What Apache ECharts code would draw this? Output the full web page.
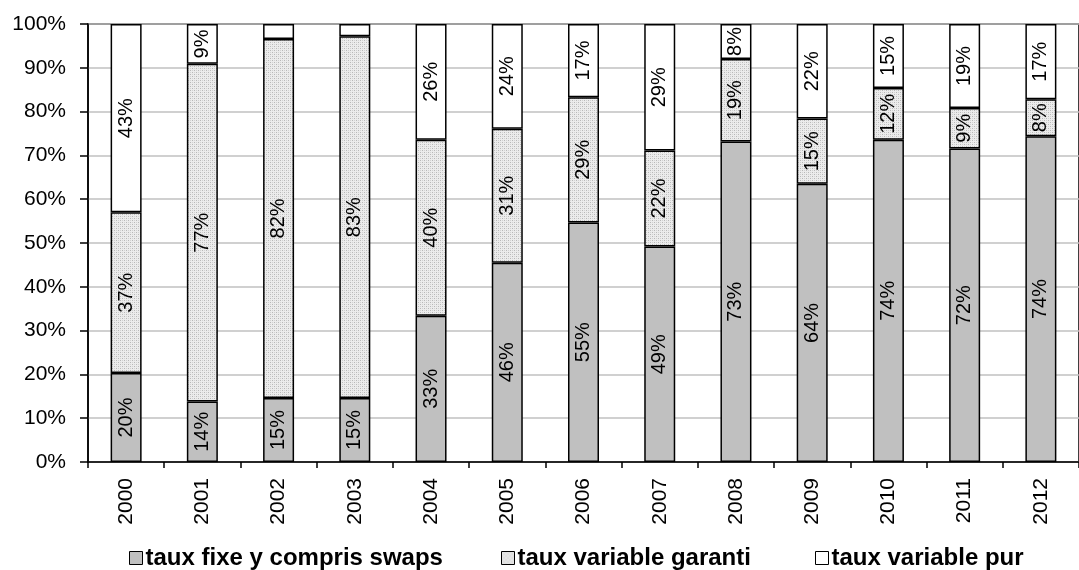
<!DOCTYPE html>
<html>
<head>
<meta charset="utf-8">
<script src="https://cdn.jsdelivr.net/npm/echarts@6/dist/echarts.min.js"></script>
<style>html,body{margin:0;padding:0;background:#fff}#c{width:1079px;height:570px}</style>
</head>
<body>
<div id="c"></div>
<script>
const years = ['2000','2001','2002','2003','2004','2005','2006','2007','2008','2009','2010','2011','2012'];
const seriesNames = ['taux fixe y compris swaps', 'taux variable garanti', 'taux variable pur'];
const fixe     = [20.3, 13.8, 14.6, 14.6, 33.4, 45.5, 54.7, 49.2, 73.2, 63.5, 73.6, 71.6, 74.4];
const garanti  = [36.7, 77.1, 82.0, 82.6, 40.2, 30.6, 28.6, 21.9, 18.8, 14.9, 11.8,  9.2,  8.4];
const pur      = [43.0,  9.1,  3.4,  2.8, 26.4, 23.9, 16.7, 28.9,  8.0, 21.6, 14.6, 19.2, 17.2];
const yTicks = [0,10,20,30,40,50,60,70,80,90,100];

// dotted pattern for "garanti"
const pc = document.createElement('canvas');
pc.width = 4; pc.height = 4;
const pctx = pc.getContext('2d');
pctx.fillStyle = '#ececec'; pctx.fillRect(0,0,4,4);
pctx.fillStyle = '#b8b8b8';
pctx.fillRect(0,0,1,1); pctx.fillRect(2,2,1,1);
pctx.fillStyle = '#d2d2d2';
pctx.fillRect(2,0,1,1); pctx.fillRect(0,2,1,1);
const pattern = {image: pc, repeat: 'repeat'};

const fills = ['#c0c0c0', pattern, '#ffffff'];
const dataSets = [fixe, garanti, pur];
const font = 'Liberation Sans, Arial, sans-serif';
const legendLefts = [129, 501, 815];

const chart = echarts.init(document.getElementById('c'), null, {renderer: 'canvas'});
chart.setOption({
  animation: false,
  backgroundColor: '#fff',
  grid: {left: 88, top: 24, width: 1005, height: 438, show: true, borderColor: '#000', borderWidth: 1.5, backgroundColor: 'transparent'},
  legend: seriesNames.map((n, i) => ({
    top: 546, left: legendLefts[i], padding: 0,
    itemWidth: 13, itemHeight: 13,
    icon: 'rect',
    textStyle: {fontFamily: font, fontSize: 24, fontWeight: 'bold', color: '#000', padding: [0,0,0,-2]},
    data: [{name: n, itemStyle: {color: fills[i], borderColor: '#000', borderWidth: 1}}]
  })),
  xAxis: {
    type: 'category', data: years,
    axisLine: {lineStyle: {color: '#000', width: 1.5}},
    axisTick: {show: true, length: 6, lineStyle: {color: '#000', width: 1.5}},
    axisLabel: {rotate: 90, margin: 16, fontFamily: font, fontSize: 21, color: '#000'},
    splitLine: {show: false}
  },
  yAxis: {
    type: 'value', min: 0, max: 100, interval: 10,
    axisLine: {show: true, lineStyle: {color: '#000', width: 1.5}},
    axisTick: {show: true, length: 8, lineStyle: {color: '#000', width: 1.5}},
    axisLabel: {margin: 22, fontFamily: font, fontSize: 21, color: '#000', formatter: v => yTicks.includes(v) ? v + '%' : ''},
    splitLine: {show: true, lineStyle: {color: '#c0c0c0', width: 1.5}}
  },
  series: seriesNames.map((n, i) => ({
    name: n, type: 'bar', stack: 'total', barWidth: 31,
    data: dataSets[i],
    itemStyle: {color: fills[i], borderColor: '#000', borderWidth: 1.5},
    label: {
      show: true, position: 'inside', rotate: 90,
      fontFamily: font, fontSize: 20, color: '#000',
      formatter: p => p.value < 5 ? '' : Math.round(p.value) + '%'
    }
  }))
});
</script>
</body>
</html>
